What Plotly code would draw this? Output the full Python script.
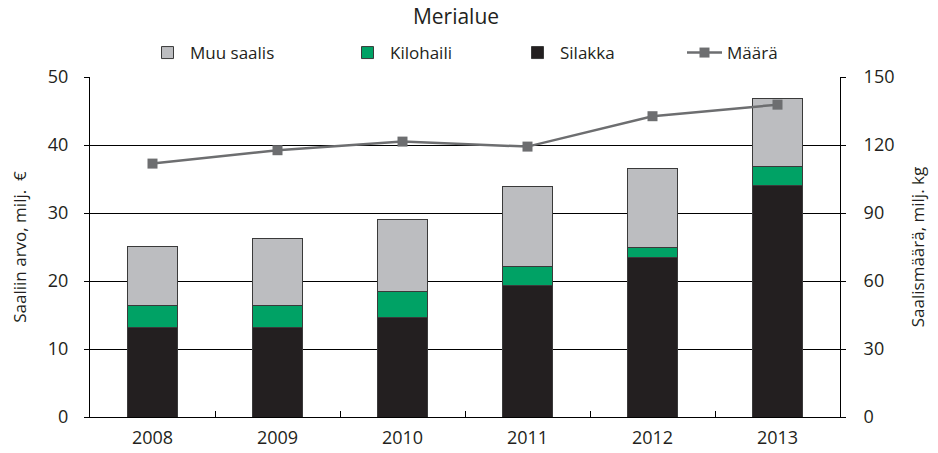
import plotly.graph_objects as go

years = ["2008", "2009", "2010", "2011", "2012", "2013"]
silakka = [13.2, 13.2, 14.6, 19.3, 23.4, 34.0]
kilohaili = [3.2, 3.2, 3.8, 2.9, 1.5, 2.9]
muu_saalis = [8.7, 9.8, 10.7, 11.7, 11.6, 10.0]
maara = [111.8, 117.7, 121.5, 119.3, 132.7, 137.8]

fnt = "Open Sans"
outline = dict(color="#3a3a3a", width=1)
off = 8  # page body margin shifts the figure

fig = go.Figure()

fig.add_trace(go.Bar(x=years, y=silakka, name="Silakka", marker=dict(color="#231F20", line=outline),
                     legend="legend3"))
fig.add_trace(go.Bar(x=years, y=kilohaili, name="Kilohaili", marker=dict(color="#00A265", line=outline),
                     legend="legend2"))
fig.add_trace(go.Bar(x=years, y=muu_saalis, name="Muu saalis", marker=dict(color="#BCBDC0", line=outline),
                     legend="legend"))
fig.add_trace(go.Scatter(x=years, y=maara, name="Määrä", yaxis="y2", mode="lines+markers",
                         line=dict(color="#6D6E70", width=2.5),
                         marker=dict(symbol="square", size=10, color="#6D6E70"),
                         legend="legend4"))

# one legend box per entry so the spacing can follow the original
leg = dict(orientation="h", xref="container", yref="container", y=1 - (53 - off) / 453, yanchor="middle",
           xanchor="left", font=dict(size=17), itemwidth=35, bgcolor="rgba(0,0,0,0)", visible=True)
legend_x = [145, 345, 515, 682]

fig.update_layout(
    width=938, height=453,
    barmode="stack", bargap=0.6,
    showlegend=True,
    plot_bgcolor="white", paper_bgcolor="white",
    margin=dict(l=90 - off, r=98 + off, t=77 - off, b=36 + off, autoexpand=False),
    font=dict(family=fnt, size=18, color="#231F20"),
    title=dict(text="Merialue", x=(456 - off) / 938, xanchor="center", y=1 - 1 / 453,
               yanchor="top", font=dict(size=21, color="#231F20")),
    legend=dict(leg, x=(legend_x[0] - off) / 938),
    legend2=dict(leg, x=(legend_x[1] - off) / 938),
    legend3=dict(leg, x=(legend_x[2] - off) / 938),
    legend4=dict(leg, x=(legend_x[3] - off) / 938),
    xaxis=dict(showline=True, linecolor="black", linewidth=1, ticks="inside",
               tickson="boundaries", ticklen=6, tickcolor="black", ticklabelstandoff=4),
    yaxis=dict(range=[0, 50], dtick=10, showgrid=True, gridcolor="black", gridwidth=1,
               showline=True, linecolor="black", linewidth=1, ticks="outside", ticklen=5,
               tickcolor="black", zeroline=False, ticklabelstandoff=12,
               title=dict(text="Saaliin arvo, milj.  €", standoff=22, font=dict(size=17))),
    yaxis2=dict(range=[0, 150], dtick=30, overlaying="y", side="right", showgrid=False,
                showline=True, linecolor="black", linewidth=1, ticks="outside", ticklen=5,
                tickcolor="black", zeroline=False, ticklabelstandoff=14,
                title=dict(text="Saalismäärä, milj. kg", standoff=18, font=dict(size=17))),
)

fig.write_html("out.html")
